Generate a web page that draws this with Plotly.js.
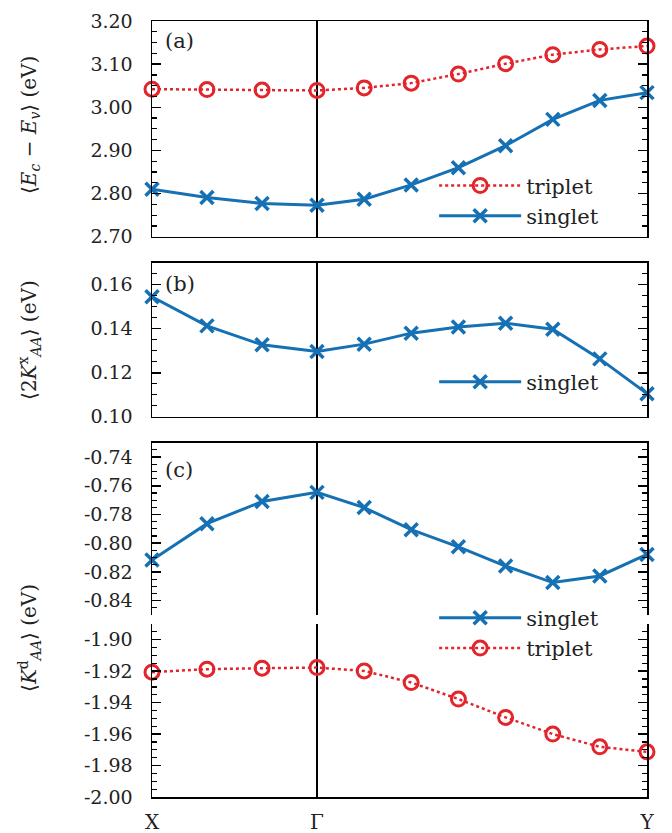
<!DOCTYPE html>
<html>
<head>
<meta charset="utf-8">
<script src="https://cdn.plot.ly/plotly-3.0.1.min.js"></script>
<style>
  html, body { margin: 0; padding: 0; background: #fff; }
  #chart { width: 672px; height: 833px; }
</style>
</head>
<body>
<div id="chart"></div>
<script>
// k-path coordinates: X -> Gamma (3 steps), Gamma -> Y (7 steps)
const kPath = [0, 0.333, 0.667, 1, 1.286, 1.571, 1.857, 2.143, 2.429, 2.714, 3];
const kTickVals = [0, 1, 3];
const kTickText = ['X', 'Γ', 'Y'];

// (a) exciton energy difference <Ec - Ev> (eV)
const gapTriplet = [3.042, 3.041, 3.040, 3.039, 3.045, 3.056, 3.077, 3.101, 3.122, 3.134, 3.142];
const gapSinglet = [2.810, 2.791, 2.777, 2.773, 2.787, 2.820, 2.860, 2.911, 2.972, 3.016, 3.034];

// (b) exchange term <2K^x_AA> (eV)
const kxSinglet = [0.1545, 0.1413, 0.1327, 0.1297, 0.1330, 0.1380, 0.1408, 0.1425, 0.1398, 0.1263, 0.1105];

// (c) direct term <K^d_AA> (eV)
const kdSinglet = [-0.8117, -0.7864, -0.7710, -0.7646, -0.7752, -0.7906, -0.8025, -0.8159, -0.8274, -0.8228, -0.8078];
const kdTriplet = [-1.9206, -1.9187, -1.9181, -1.9177, -1.9198, -1.9272, -1.9377, -1.9494, -1.9600, -1.9681, -1.9713];

// y tick values and labels for each panel
const aTicks = [2.70, 2.80, 2.90, 3.00, 3.10, 3.20];
const aTickText = ['2.70', '2.80', '2.90', '3.00', '3.10', '3.20'];
const bTicks = [0.10, 0.12, 0.14, 0.16];
const bTickText = ['0.10', '0.12', '0.14', '0.16'];
const cUpTicks = [-0.84, -0.82, -0.80, -0.78, -0.76, -0.74];
const cUpTickText = ['-0.84', '-0.82', '-0.80', '-0.78', '-0.76', '-0.74'];
const cLoTicks = [-2.00, -1.98, -1.96, -1.94, -1.92, -1.90];
const cLoTickText = ['-2.00', '-1.98', '-1.96', '-1.94', '-1.92', '-1.90'];

const RED = '#e3242b';
const BLUE = '#1571b3';
const FONT = "'DejaVu Serif', 'Liberation Serif', serif";
const MATHFONT = "'DejaVu Serif', 'DejaVu Sans', serif";
const INK = '#222';

function tripletTrace(y, xa, ya, legend) {
  return {
    x: kPath, y: y, xaxis: xa, yaxis: ya, name: 'triplet',
    type: 'scatter', mode: 'lines+markers', cliponaxis: false,
    legend: legend, showlegend: true,
    line: { color: RED, width: 2.5, dash: 'dot' },
    marker: { symbol: 'circle-open', size: 14, color: RED, line: { color: RED, width: 3 } }
  };
}
function singletTrace(y, xa, ya, legend) {
  return {
    x: kPath, y: y, xaxis: xa, yaxis: ya, name: 'singlet',
    type: 'scatter', mode: 'lines+markers', cliponaxis: false,
    legend: legend, showlegend: true,
    line: { color: BLUE, width: 3 },
    marker: { symbol: 'x-thin', size: 13, color: BLUE, line: { color: BLUE, width: 3.5 } }
  };
}

const traces = [
  tripletTrace(gapTriplet, 'x', 'y', 'legend'),
  singletTrace(gapSinglet, 'x', 'y', 'legend'),
  singletTrace(kxSinglet, 'x2', 'y2', 'legend2'),
  singletTrace(kdSinglet, 'x3', 'y3', 'legend3'),
  tripletTrace(kdTriplet, 'x4', 'y4', 'legend3')
];

function xAxis(anchor, extra) {
  return Object.assign({
    anchor: anchor, domain: [0, 1], range: [0, 3],
    tickmode: 'array', tickvals: kTickVals, ticktext: kTickText,
    showticklabels: false, ticks: '',
    showgrid: true, gridcolor: '#000', gridwidth: 1.5,
    zeroline: false, showline: true, linecolor: '#000', linewidth: 1.5,
    mirror: true, fixedrange: true
  }, extra || {});
}
function yAxis(anchor, domain, range, vals, text, minorStep) {
  return {
    anchor: anchor, domain: domain, range: range,
    tickmode: 'array', tickvals: vals, ticktext: text,
    ticks: 'inside', ticklen: 9, tickwidth: 1.5, tickcolor: '#000',
    ticklabelstandoff: 14,
    minor: { ticks: 'inside', ticklen: 5, tickwidth: 1.2, tickcolor: '#000', dtick: minorStep, tick0: 0, showgrid: false },
    showgrid: false, zeroline: false,
    showline: true, linecolor: '#000', linewidth: 1.5, mirror: 'allticks',
    tickfont: { family: FONT, size: 19, color: INK }, fixedrange: true
  };
}

const legendBase = {
  xref: 'paper', yref: 'paper', xanchor: 'left', yanchor: 'top',
  bgcolor: 'rgba(0,0,0,0)', borderwidth: 0, itemwidth: 82,
  font: { family: FONT, size: 21, color: INK }, tracegroupgap: 0
};

const layout = {
  width: 672, height: 833,
  margin: { l: 152, r: 25, t: 21, b: 36 },
  paper_bgcolor: '#fff', plot_bgcolor: '#fff',
  font: { family: FONT, color: INK },
  xaxis: xAxis('y'),
  xaxis2: xAxis('y2'),
  xaxis3: xAxis('y3', { side: 'top', mirror: false }),
  xaxis4: xAxis('y4', {
    side: 'bottom', mirror: false, showticklabels: true, ticklabelstandoff: 6,
    tickfont: { family: FONT, size: 20, color: INK }
  }),
  yaxis: yAxis('x', [0.722, 1.0], [2.70, 3.20], aTicks, aTickText, 0.025),
  yaxis2: yAxis('x2', [0.490, 0.6885], [0.10, 0.17], bTicks, bTickText, 0.005),
  yaxis3: yAxis('x3', [0.2345, 0.4566], [-0.85, -0.73], cUpTicks, cUpTickText, 0.005),
  yaxis4: yAxis('x4', [0, 0.2229], [-2.00, -1.89], cLoTicks, cLoTickText, 0.005),
  legend: Object.assign({}, legendBase, { x: 0.57, y: 0.814 }),
  legend2: Object.assign({}, legendBase, { x: 0.57, y: 0.561 }),
  legend3: Object.assign({}, legendBase, { x: 0.57, y: 0.257 }),
  annotations: [
    { text: '⟨<i>E</i><sub><i>c</i></sub> − <i>E</i><sub><i>v</i></sub>⟩ (eV)',
      xref: 'paper', yref: 'paper', x: -0.2465, y: 0.866, xanchor: 'center', yanchor: 'middle',
      textangle: -90, showarrow: false, font: { family: MATHFONT, size: 20, color: INK } },
    { text: '⟨2<i>K</i><sup>x</sup><sub><i>AA</i></sub>⟩ (eV)',
      xref: 'paper', yref: 'paper', x: -0.2465, y: 0.589, xanchor: 'center', yanchor: 'middle',
      textangle: -90, showarrow: false, font: { family: MATHFONT, size: 20, color: INK } },
    { text: '⟨<i>K</i><sup>d</sup><sub><i>AA</i></sub>⟩ (eV)',
      xref: 'paper', yref: 'paper', x: -0.2465, y: 0.205, xanchor: 'center', yanchor: 'middle',
      textangle: -90, showarrow: false, font: { family: MATHFONT, size: 20, color: INK } },
    { text: '(a)', xref: 'x domain', yref: 'y domain', x: 0.022, y: 0.906,
      xanchor: 'left', yanchor: 'middle', showarrow: false, font: { family: FONT, size: 21, color: INK } },
    { text: '(b)', xref: 'x2 domain', yref: 'y2 domain', x: 0.022, y: 0.862,
      xanchor: 'left', yanchor: 'middle', showarrow: false, font: { family: FONT, size: 21, color: INK } },
    { text: '(c)', xref: 'x3 domain', yref: 'y3 domain', x: 0.022, y: 0.842,
      xanchor: 'left', yanchor: 'middle', showarrow: false, font: { family: FONT, size: 21, color: INK } }
  ]
};

Plotly.newPlot('chart', traces, layout, { staticPlot: true, displayModeBar: false });
</script>
</body>
</html>
